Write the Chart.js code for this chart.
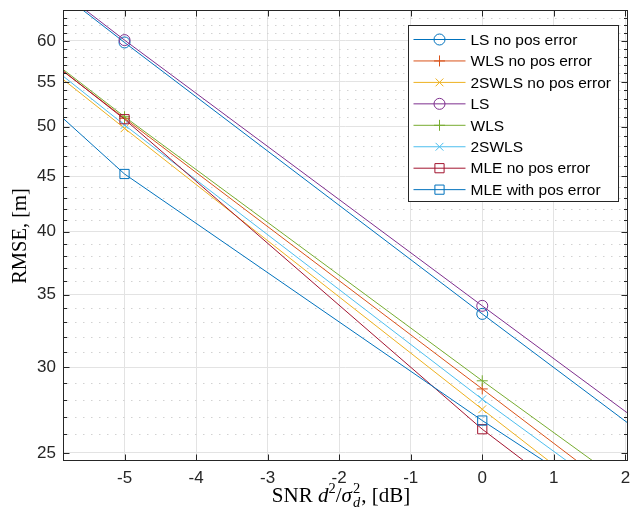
<!DOCTYPE html>
<html>
<head>
<meta charset="utf-8">
<script src="https://cdn.jsdelivr.net/npm/chart.js@4.4.1/dist/chart.umd.min.js"></script>
<style>
  html, body { margin: 0; padding: 0; background: #fff; }
  #wrap { width: 635px; height: 516px; }
</style>
</head>
<body>
<div id="wrap"><canvas id="rmse" width="635" height="516"></canvas></div>
<script>
// SNR points of the simulation (only -5 and 0 fall inside the axes)
const snr = [-10, -5, 0, 5];

// RMSE [m] per method
const lsNoPos   = [107.9, 59.8, 33.59, 19.0];
const wlsNoPos  = [91.1, 50.9, 28.64, 16.07];
const swlsNoPos = [91.2, 49.83, 27.43, 15.2];
const ls        = [107.9, 60.1, 34.17, 19.5];
const wls       = [91.7, 51.07, 29.14, 16.8];
const swls      = [91.9, 50.18, 28.02, 16.1];
const mleNoPos  = [92.4, 50.8, 26.29, 14.76];
const mlePos    = [90.0, 45.22, 26.78, 16.28];

const xTicks = [-5, -4, -3, -2, -1, 0, 1, 2];
const yTicks = [25, 30, 35, 40, 45, 50, 55, 60];
const yMinor = [26, 27, 28, 29, 31, 32, 33, 34, 36, 37, 38, 39, 41, 42, 43, 44,
                46, 47, 48, 49, 51, 52, 53, 54, 56, 57, 58, 59, 61, 62, 63];

const series = [
  { label: 'LS no pos error',     data: lsNoPos,   color: '#0072BD', marker: 'circle' },
  { label: 'WLS no pos error',    data: wlsNoPos,  color: '#D95319', marker: 'cross' },
  { label: '2SWLS no pos error',  data: swlsNoPos, color: '#EDB120', marker: 'crossRot' },
  { label: 'LS',                  data: ls,        color: '#7E2F8E', marker: 'circle' },
  { label: 'WLS',                 data: wls,       color: '#77AC30', marker: 'cross' },
  { label: '2SWLS',               data: swls,      color: '#4DBEEE', marker: 'crossRot' },
  { label: 'MLE no pos error',    data: mleNoPos,  color: '#A2142F', marker: 'rect' },
  { label: 'MLE with pos error',  data: mlePos,    color: '#0072BD', marker: 'rect' }
];

const markerSize = { circle: 5.5, cross: 5.5, crossRot: 5.5, rect: 6.5 };
const AX = '#262626';
const SANS = '"Liberation Sans", Arial, sans-serif';
const SERIF = '"Liberation Serif", "Times New Roman", serif';

const datasets = series.map((s, i) => ({
  label: s.label,
  data: snr.map((x, k) => ({ x: x, y: s.data[k] })),
  showLine: true,
  borderColor: s.color,
  borderWidth: 1,
  tension: 0,
  pointStyle: s.marker,
  pointRadius: markerSize[s.marker],
  pointBorderWidth: 1,
  pointBorderColor: s.color,
  pointBackgroundColor: 'rgba(0,0,0,0)',
  order: series.length - i
}));

// minor grid, inward ticks, box, legend and axis titles, MATLAB style
const frame = {
  id: 'frame',
  beforeDatasetsDraw(chart) {
    const { ctx, chartArea: a, scales: { y } } = chart;
    ctx.save();
    ctx.strokeStyle = '#d2d2d2';
    ctx.lineWidth = 1;
    ctx.setLineDash([1.5, 6.5]);
    yMinor.forEach(v => {
      const py = Math.round(y.getPixelForValue(v)) + 0.5;
      ctx.beginPath();
      ctx.moveTo(a.left + 4, py);
      ctx.lineTo(a.right, py);
      ctx.stroke();
    });
    ctx.restore();
  },
  afterDatasetsDraw(chart) {
    const { ctx, chartArea: a, scales: { x, y } } = chart;
    ctx.save();
    ctx.strokeStyle = AX;
    ctx.lineWidth = 1;
    const L = Math.round(a.left) + 0.5, R = Math.round(a.right) - 0.5;
    const T = Math.round(a.top) + 0.5, B = Math.round(a.bottom) - 0.5;
    ctx.beginPath();
    yTicks.forEach(v => {
      const py = Math.round(y.getPixelForValue(v)) + 0.5;
      ctx.moveTo(L, py); ctx.lineTo(L + 6, py);
      ctx.moveTo(R, py); ctx.lineTo(R - 6, py);
    });
    yMinor.forEach(v => {
      const py = Math.round(y.getPixelForValue(v)) + 0.5;
      ctx.moveTo(L, py); ctx.lineTo(L + 3.5, py);
      ctx.moveTo(R, py); ctx.lineTo(R - 3.5, py);
    });
    xTicks.forEach(v => {
      const px = Math.round(x.getPixelForValue(v)) + 0.5;
      ctx.moveTo(px, B); ctx.lineTo(px, B - 6);
      ctx.moveTo(px, T); ctx.lineTo(px, T + 6);
    });
    ctx.stroke();
    ctx.strokeRect(L, T, R - L, B - T);

    // legend
    const lx = 408.5, ly = 25.5, lw = 210, lh = 176, row = 21.45;
    ctx.fillStyle = '#fff';
    ctx.fillRect(lx, ly, lw, lh);
    ctx.strokeStyle = AX;
    ctx.strokeRect(lx, ly, lw, lh);
    ctx.font = '15.5px ' + SANS;
    ctx.textBaseline = 'middle';
    series.forEach((s, i) => {
      const cy = ly + 14 + i * row;
      ctx.strokeStyle = s.color;
      ctx.lineWidth = 1;
      ctx.beginPath();
      ctx.moveTo(lx + 5, cy); ctx.lineTo(lx + 57, cy);
      ctx.stroke();
      ctx.fillStyle = 'rgba(0,0,0,0)';
      Chart.helpers.drawPoint(ctx, { pointStyle: s.marker, radius: markerSize[s.marker], rotation: 0, borderWidth: 1 }, lx + 31, cy);
      ctx.fillStyle = '#000';
      ctx.fillText(s.label, lx + 62, cy + 1);
    });

    // y title
    ctx.fillStyle = '#000';
    ctx.font = '20.5px ' + SERIF;
    ctx.textAlign = 'center';
    ctx.textBaseline = 'middle';
    ctx.save();
    ctx.translate(21, 236);
    ctx.rotate(-Math.PI / 2);
    ctx.fillText('RMSE, [m]', 0, 0);
    ctx.restore();

    // x title: SNR d^2/sigma_d^2, [dB]
    const big = '21px ' + SERIF;
    const it = 'italic 21px ' + SERIF;
    const sm = '14.5px ' + SERIF;
    const smIt = 'italic 14.5px ' + SERIF;
    const w = (t, f) => { ctx.font = f; return ctx.measureText(t).width; };
    const parts = [
      ['SNR ', big, 0], ['d', it, 0], ['2', sm, -9], ['/', big, 0], ['σ', it, 0]
    ];
    const stackW = Math.max(w('2', sm), w('d', smIt)) + 2;
    const total = parts.reduce((acc, p) => acc + w(p[0], p[1]), 0) + stackW + w(', [dB]', big);
    let cx = 341 - total / 2;
    const base = 502;
    ctx.textAlign = 'left';
    ctx.textBaseline = 'alphabetic';
    parts.forEach(p => {
      ctx.font = p[1];
      ctx.fillText(p[0], cx, base + p[2]);
      cx += w(p[0], p[1]);
    });
    ctx.font = sm; ctx.fillText('2', cx + 1, base - 9);
    ctx.font = smIt; ctx.fillText('d', cx + 1, base + 5);
    cx += stackW;
    ctx.font = big; ctx.fillText(', [dB]', cx, base);
    ctx.restore();
  }
};

new Chart(document.getElementById('rmse'), {
  type: 'scatter',
  data: { datasets: datasets },
  options: {
    responsive: false,
    devicePixelRatio: 1,
    animation: false,
    layout: { padding: { left: 0, right: 4, top: 10, bottom: 0 } },
    plugins: { legend: { display: false }, tooltip: { enabled: false } },
    scales: {
      x: {
        type: 'linear',
        min: -5.86,
        max: 2.03,
        afterBuildTicks: s => { s.ticks = xTicks.map(v => ({ value: v })); },
        afterFit: s => { s.height = 55.5; s.paddingLeft = 0; s.paddingRight = 0; },
        grid: { color: '#e3e3e3', drawTicks: false },
        border: { display: false },
        ticks: {
          padding: 8,
          color: AX,
          maxRotation: 0,
          font: { family: SANS, size: 17 },
          callback: v => String(v)
        }
      },
      y: {
        type: 'logarithmic',
        min: 24.6,
        max: 64.07,
        afterBuildTicks: s => { s.ticks = yTicks.map(v => ({ value: v })); },
        afterFit: s => { s.width = 63; s.paddingTop = 0; s.paddingBottom = 0; },
        grid: { color: '#e3e3e3', drawTicks: false },
        border: { display: false },
        ticks: {
          padding: 7,
          autoSkip: false,
          color: AX,
          font: { family: SANS, size: 17 },
          callback: v => String(v)
        }
      }
    }
  },
  plugins: [frame]
});
</script>
</body>
</html>
